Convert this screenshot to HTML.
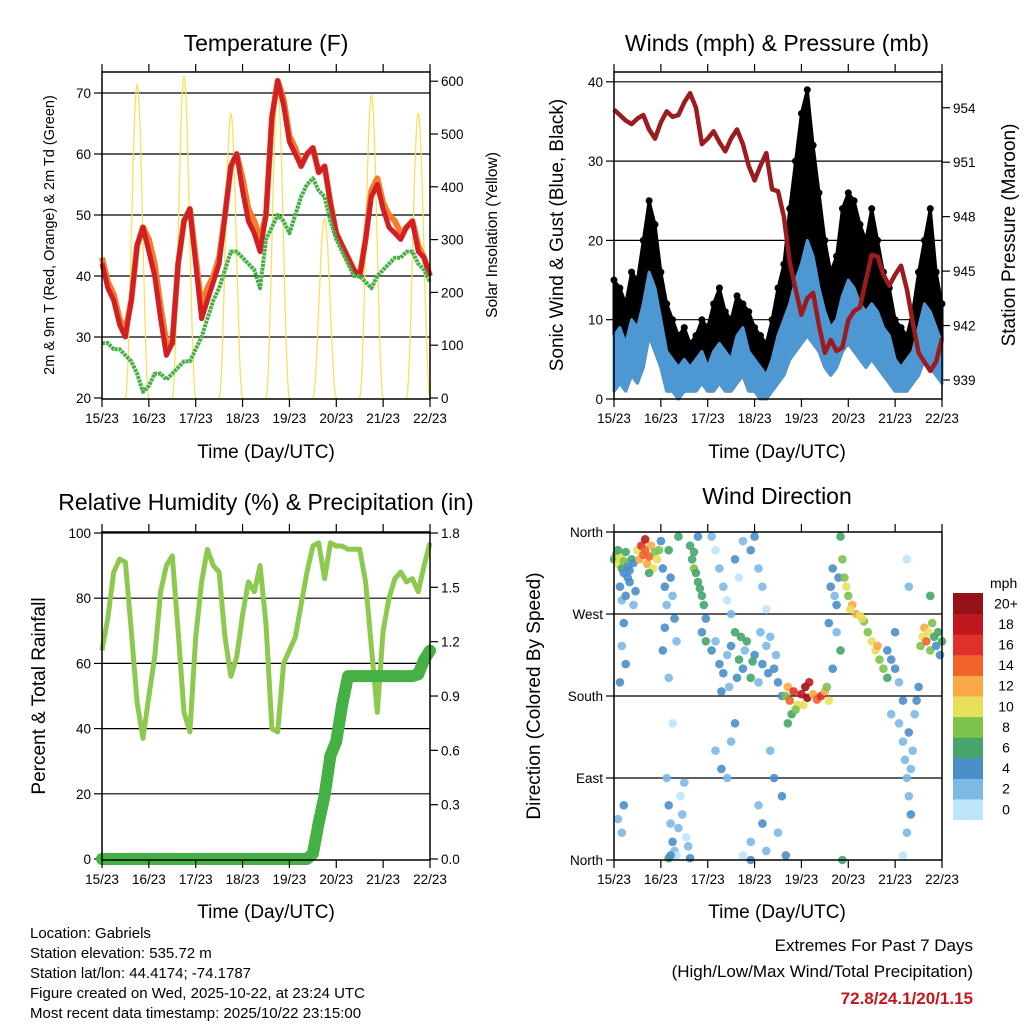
<!DOCTYPE html>
<html><head><meta charset="utf-8">
<style>
html,body{margin:0;padding:0;background:#fff;}
svg{display:block;font-family:"Liberation Sans",sans-serif;}
</style></head>
<body>
<svg id="chart" width="1024" height="1024" viewBox="0 0 1024 1024" xmlns="http://www.w3.org/2000/svg">
<rect x="0" y="0" width="1024" height="1024" fill="#fff"/>
<g id="p1"></g>
<g id="p2"></g>
<g id="p3"></g>
<g id="p4"></g>
<g id="txt">
<text x="266" y="51" font-size="23" text-anchor="middle">Temperature (F)</text>
<text x="777" y="51" font-size="23" text-anchor="middle">Winds (mph) &amp; Pressure (mb)</text>
<text x="266" y="510" font-size="23" text-anchor="middle">Relative Humidity (%) &amp; Precipitation (in)</text>
<text x="777" y="504" font-size="23" text-anchor="middle">Wind Direction</text>
<text x="266" y="458" font-size="19" text-anchor="middle">Time (Day/UTC)</text>
<text x="777" y="458" font-size="19" text-anchor="middle">Time (Day/UTC)</text>
<text x="266" y="918" font-size="19" text-anchor="middle">Time (Day/UTC)</text>
<text x="777" y="918" font-size="19" text-anchor="middle">Time (Day/UTC)</text>
<text transform="translate(54,235) rotate(-90)" font-size="14.5" text-anchor="middle">2m &amp; 9m T (Red, Orange) &amp; 2m Td (Green)</text>
<text transform="translate(497,235) rotate(-90)" font-size="15.5" text-anchor="middle">Solar Insolation (Yellow)</text>
<text transform="translate(563,235) rotate(-90)" font-size="19" text-anchor="middle">Sonic Wind &amp; Gust (Blue, Black)</text>
<text transform="translate(1015,235) rotate(-90)" font-size="19" text-anchor="middle">Station Pressure (Maroon)</text>
<text transform="translate(45,696) rotate(-90)" font-size="19" text-anchor="middle">Percent &amp; Total Rainfall</text>
<text transform="translate(540,696) rotate(-90)" font-size="19" text-anchor="middle">Direction (Colored By Speed)</text>
<text x="30" y="938" font-size="15">Location: Gabriels</text>
<text x="30" y="958" font-size="15">Station elevation: 535.72 m</text>
<text x="30" y="978" font-size="15">Station lat/lon: 44.4174; -74.1787</text>
<text x="30" y="998" font-size="15">Figure created on Wed, 2025-10-22, at 23:24 UTC</text>
<text x="30" y="1018" font-size="15">Most recent data timestamp: 2025/10/22 23:15:00</text>
<text x="973" y="951" font-size="17" text-anchor="end">Extremes For Past 7 Days</text>
<text x="973" y="977" font-size="17" text-anchor="end">(High/Low/Max Wind/Total Precipitation)</text>
<text x="973" y="1004" font-size="17" font-weight="bold" fill="#c4161c" text-anchor="end">72.8/24.1/20/1.15</text>
</g>
</svg>
<script>
// ---- data (3-hourly samples from 15/23 to 22/23) ----
const dayLabels = ["15/23","16/23","17/23","18/23","19/23","20/23","21/23","22/23"];
const tempRed = [42,38,36,32,30,36,45,48,44,40,33,27,29,42,49,51,42,33,36,39,42,50,58,60,54,49,47,44,50,66,72,68,62,60,58,60,61,57,58,52,47,45,43,41,40,46,53,55,51,48,47,46,48,49,44,43,40];
const tempOrange = [43,39,37,33,31,36,45,48,46,42,35,29,29,42,49,51,43,35,38,40,43,50,58,60,56,51,49,46,50,66,72,69,63,61,58,60,61,57,58,52,47,45,43,41,40,46,54,56,52,50,49,47,48,49,45,43,40];
const dewGreen = [29,29,28,28,27,26,24,21,22,24,24,23,24,25,26,26,28,30,33,36,38,41,44,44,43,42,41,38,46,48,50,49,47,50,53,55,56,54,53,49,46,44,42,40,40,39,38,40,41,42,43,43,44,44,42,41,39];
const solarPeaks = [595,610,540,590,340,575,540];
const tempTicks = [20,30,40,50,60,70];
const solarTicks = [0,100,200,300,400,500,600];

const windLo = [1,2,1,3,2,4,8,6,4,1,1,0,1,1,1,2,1,1,2,1,1,2,3,1,1,0,0,1,2,3,5,6,7,8,7,6,4,3,4,6,7,6,5,4,5,4,3,2,1,1,1,2,3,5,4,3,2];
const windHi = [8,9,7,10,9,12,16,14,10,6,5,4,5,4,5,6,4,6,7,6,5,8,9,6,5,4,3,5,8,10,12,15,17,20,18,14,11,9,10,13,15,14,12,11,12,11,9,8,5,4,5,6,9,12,11,9,7];
const gustHi = [15,14,12,16,15,20,25,22,16,12,10,8,9,7,8,10,9,12,14,11,10,13,12,11,9,8,7,10,14,17,24,30,36,39,32,26,20,16,18,24,26,25,22,20,24,20,16,14,10,9,8,11,16,20,24,16,12];
const pressure = [953.9,953.6,953.3,953.1,953.4,953.6,952.8,952.3,953.2,953.8,953.5,953.6,954.3,954.8,954.0,952.0,952.3,952.7,952.1,951.6,952.3,952.8,952.0,950.8,950.0,950.8,951.5,949.5,949.4,948.0,945.5,944.0,942.6,943.5,943.8,942.0,940.5,941.2,940.6,940.8,942.3,942.8,943.0,944.5,945.9,945.8,944.8,944.2,944.8,945.3,944.0,942.2,940.5,940.0,939.5,940.0,941.3];
const windTicks = [0,10,20,30,40];
const pressTicks = [939,942,945,948,951,954];

const rh = [64,74,88,92,91,70,48,37,50,62,82,90,93,70,45,39,68,85,95,90,88,68,56,62,75,85,82,90,72,40,39,60,64,68,78,88,96,97,86,97,96,96,95,95,95,85,65,45,70,80,86,88,85,86,82,90,97];
const precip = [0,0,0,0,0,0,0,0,0,0,0,0,0,0,0,0,0,0,0,0,0,0,0,0,0,0,0,0,0,0,0,0,0,0,0,0,0.03,0.2,0.35,0.57,0.65,0.85,1.01,1.01,1.01,1.01,1.01,1.01,1.01,1.01,1.01,1.01,1.01,1.01,1.02,1.1,1.15];
const rhTicks = [0,20,40,60,80,100];
const precipTicks = ["0.0","0.3","0.6","0.9","1.2","1.5","1.8"];

const dirHours = [0,1,2,3,4,5,6,7,8,9,10,2,5,7, 3,4,6,8,10,11,5,4,6,3,5,4,2, 12,13,14,15,16,17,18,19,20,21,22,16,18,23, 24,25,26,27,28,29,30,31,32,25,28,30,33,26, 27,28,29,30,31,32,33,34,35,36,37,38,39,28,29, 39,40,41,42,43,44,45,46,47,41,43,45,47, 50,52,54,56,58,60,62,66,70,72,74,76,78,64, 50,52,54,56,58,60,62,64,66,68,70,72,74,76,78,80,82,84,86,55,59,63,67,71,75,79,83,65, 52,55,58,60,62,66,70,74,76,78,80,82,84,86,88,70, 88,89,90,92,94,96,98,99,100,102,104,106,108,110,91,93,97,89,109, 110,111,112,113,114,115,116,112,114,117, 116,117,118,119,120,122,124,126,128,130,132,134,136,138,140,135,121,127, 140,142,144,146,148,142,144, 146,148,149,150,151,152,150,153,151,152,154,155,156,148,150,151, 157,158,159,160,161,162,163,164,165,166,167,168,162];
const dirDegrees = [330,335,325,332,320,328,338,322,318,330,326,340,315,310, 300,285,290,305,280,295,260,235,215,195,60,30,45, 340,330,345,335,340,325,333,345,320,338,330,352,315,340, 350,320,300,280,340,310,290,265,240,230,200,150,355,255, 90,60,40,20,10,5,35,70,50,85,25,15,2,2,5, 345,330,320,315,305,298,290,280,265,338,355,250,240, 355,340,320,300,285,270,330,350,340,355,320,300,275,310, 230,240,215,205,225,235,250,220,210,240,200,225,195,215,235,245,210,195,180,185,190,200,230,218,250,205,225,245, 120,100,90,130,150,5,20,60,40,10,120,90,30,70,5,0, 180,190,175,185,170,182,190,178,195,182,176,180,185,175,160,165,170,150,190, 260,300,320,290,280,310,230,210,250,0, 355,330,310,300,290,280,270,268,262,250,240,230,220,210,200,235,275,265, 230,220,210,195,175,160,250, 150,130,110,90,70,50,30,120,140,100,160,175,190,5,330,300, 235,245,255,240,250,230,260,245,235,250,225,240,290];
const dirSpeeds = [6,8,10,10,6,8,6,4,4,6,4,6,4,4, 4,2,4,4,2,4,4,2,4,4,4,2,2, 10,12,16,14,14,12,14,12,10,8,10,18,6,8, 4,4,4,2,6,4,2,4,2,4,2,0,6,4, 2,4,2,4,2,0,2,0,2,2,0,2,4,6,4, 6,6,8,6,6,6,6,6,4,6,4,4,6, 2,0,2,2,0,2,4,2,4,4,2,2,0,0, 4,2,4,4,2,4,6,6,4,6,6,4,2,4,2,2,4,4,4,4,2,4,2,6,2,4,2,6, 2,4,2,2,4,0,2,2,4,2,2,4,2,4,4,4, 8,12,14,16,10,18,20,20,18,12,14,16,12,10,6,8,10,6,8, 4,4,4,2,4,4,6,4,2,6, 6,8,8,10,8,12,12,10,8,8,10,10,8,8,6,12,10,10, 4,4,4,2,4,2,4, 2,2,2,2,2,4,2,2,4,2,2,4,4,0,0,2, 8,10,12,14,10,8,8,6,4,6,4,6,6];
const dirLabels = ["North","East","South","West","North"];
const speedLabels = ["0","2","4","6","8","10","12","14","16","18","20+"];
const speedColors = ["#bde5f8","#7db9e5","#4a8ec8","#45a56c","#7dc24b","#e8e05a","#f9a947","#f0632b","#e03029","#c0161f","#961219"];

// ---- helpers ----
const NS = "http://www.w3.org/2000/svg";
function mk(parent, tag, attrs) {
  const e = document.createElementNS(NS, tag);
  for (const k in attrs) e.setAttribute(k, attrs[k]);
  parent.appendChild(e);
  return e;
}
const P1 = document.getElementById("p1"), P2 = document.getElementById("p2"),
      P3 = document.getElementById("p3"), P4 = document.getElementById("p4");

function frame(g, L, T, R, B, name) {
  const f = mk(g, "rect", {x:L, y:T, width:R-L, height:B-T, fill:"none", stroke:"#000", "stroke-width":1.5});
  
  
  dayLabels.forEach((d, i) => {
    const x = L + (R - L) * i / 7;
    const t1 = mk(g, "line", {x1:x, y1:T, x2:x, y2:T-8, stroke:"#000", "stroke-width":1.2});
    
    
    const t2 = mk(g, "line", {x1:x, y1:B, x2:x, y2:B+8, stroke:"#000", "stroke-width":1.2});
    
    
    const lb = mk(g, "text", {x:x, y:B+24, "font-size":13.5, "text-anchor":"middle"});
    lb.textContent = d;
    
    
  });
}
function hline(g, L, R, y) {
  const l = mk(g, "line", {x1:L, y1:y, x2:R, y2:y, stroke:"#000", "stroke-width":1.2});
  
  
}
function ytick(g, x, y, label, side) {
  const dx = side === "left" ? -8 : 8;
  const t = mk(g, "line", {x1:x, y1:y, x2:x+dx, y2:y, stroke:"#000", "stroke-width":1.2});
  
  
  const lb = mk(g, "text", {x: side === "left" ? x-11 : x+11, y:y+5, "font-size":13.5, "text-anchor": side === "left" ? "end" : "start"});
  lb.textContent = label;
  
  
}
function pts(arr, xf, yf) { return arr.map((v, i) => xf(i).toFixed(1) + "," + yf(v).toFixed(1)).join(" "); }

// ---- Panel 1: temperature ----
(function(){
  const L=102, R=430, T=72, B=399;
  const xs = i => L + (R-L) * i / (tempRed.length-1);
  const yT = v => 398 - (v-20) * 6.1;
  const yS = v => 398 - v * 0.528;
  tempTicks.forEach(v => { if (v > 20) hline(P1, L, R, yT(v)); ytick(P1, L, yT(v), String(v), "left"); });
  solarTicks.forEach(v => ytick(P1, R, yS(v), String(v), "right"));
  solarPeaks.forEach((pk, d) => {
    const c = L + (R-L) * (d*24 + 18) / 168;
    let s = "";
    for (let k = -12; k <= 12; k++) {
      const h = k / 2;
      const f = Math.cos(h / 6 * Math.PI / 2);
      s += (c + h*(R-L)/168).toFixed(1) + "," + yS(pk * Math.max(0,f) ** 2).toFixed(1) + " ";
    }
    const p = mk(P1, "polyline", {points:s, fill:"none", stroke:"#f7e15a", "stroke-width":1.3});
    
    
  });
  const o = mk(P1, "polyline", {points:pts(tempOrange, xs, yT), fill:"none", stroke:"#f47c2a", "stroke-width":6, "stroke-linejoin":"round"});
  
  
  const r = mk(P1, "polyline", {points:pts(tempRed, xs, yT), fill:"none", stroke:"#d11f26", "stroke-width":5, "stroke-linejoin":"round"});
  
  
  const g = mk(P1, "polyline", {points:pts(dewGreen, xs, yT), fill:"none", stroke:"#45b044", "stroke-width":4, "stroke-dasharray":"3 0.8", "stroke-linejoin":"round"});
  
  
  frame(P1, L, T, R, B, "temperature-frame");
})();

// ---- Panel 2: winds & pressure ----
(function(){
  const L=614, R=942, T=72, B=399;
  const xs = i => L + (R-L) * i / (windHi.length-1);
  const yW = v => 399 - v * 7.93;
  const yP = v => 380 - (v-939) * 18.15;
  windTicks.forEach(v => { if (v > 0) hline(P2, L, R, yW(v)); ytick(P2, L, yW(v), String(v), "left"); });
  pressTicks.forEach(v => ytick(P2, R, yP(v), String(v), "right"));
  let top = gustHi.map((v,i)=>xs(i).toFixed(1)+","+yW(v).toFixed(1));
  let bot = windLo.map((v,i)=>xs(i).toFixed(1)+","+yW(v).toFixed(1)).reverse();
  const gb = mk(P2, "polygon", {points: top.concat(bot).join(" "), fill:"#000", stroke:"#000", "stroke-width":3, "stroke-linejoin":"round"});
  
  
  gustHi.forEach((v,i) => {
    const c = mk(P2, "circle", {cx:xs(i), cy:yW(v), r:3.5, fill:"#000"});
    
    
  });
  top = windHi.map((v,i)=>xs(i).toFixed(1)+","+yW(v).toFixed(1));
  const wb = mk(P2, "polygon", {points: top.concat(bot).join(" "), fill:"#4d98d2", stroke:"#4d98d2", "stroke-width":3, "stroke-linejoin":"round"});
  
  
  const pl = mk(P2, "polyline", {points:pts(pressure, xs, yP), fill:"none", stroke:"#9b1b1e", "stroke-width":4.5, "stroke-linejoin":"round"});
  
  
  frame(P2, L, T, R, B, "winds-frame");
})();

// ---- Panel 3: RH & precipitation ----
(function(){
  const L=102, R=430, T=532, B=860;
  const xs = i => L + (R-L) * i / (rh.length-1);
  const yR = v => 859 - v * 3.26;
  const yPr = v => 859 - v * 181.1;
  rhTicks.forEach(v => { if (v > 0) hline(P3, L, R, yR(v)); ytick(P3, L, yR(v), String(v), "left"); });
  precipTicks.forEach(v => ytick(P3, R, yPr(parseFloat(v)), v, "right"));
  const l = mk(P3, "polyline", {points:pts(rh, xs, yR), fill:"none", stroke:"#8dc94e", "stroke-width":5, "stroke-linejoin":"round"});
  
  
  const pp = mk(P3, "polyline", {points:pts(precip, xs, yPr), fill:"none", stroke:"#45b044", "stroke-width":12, "stroke-linejoin":"round", "stroke-linecap":"round"});
  
  
  frame(P3, L, T, R, B, "humidity-frame");
})();

// ---- Panel 4: wind direction ----
(function(){
  const L=614, R=942, T=532, B=860;
  const xh = h => L + (R-L) * h / 168;
  const yD = d => B - d / 360 * (B-T);
  dirLabels.forEach((lab, i) => {
    const y = yD(i*90);
    if (i > 0 && i < 4) hline(P4, L, R, y);
    ytick(P4, L, y, lab, "left");
  });
  dirHours.forEach((h, i) => {
    const bin = Math.min(10, Math.floor(dirSpeeds[i] / 2));
    const c = mk(P4, "circle", {cx:xh(h).toFixed(1), cy:yD(dirDegrees[i]).toFixed(1), r:4.3, fill:speedColors[bin], "fill-opacity":0.9});
    
    
  });
  frame(P4, L, T, R, B, "direction-frame");
  const cbT = 593, cbH = 20.6;
  const ml = mk(P4, "text", {x:990, y:588, "font-size":14, "text-anchor":"start"});
  ml.textContent = "mph";
  
  
  speedLabels.forEach((lab, i) => {
    const k = speedLabels.length - 1 - i;
    const y = cbT + k * cbH;
    const r = mk(P4, "rect", {x:953, y:y, width:30, height:cbH+0.5, fill:speedColors[i]});
    
    
    const t = mk(P4, "text", {x:1006, y:y+cbH/2+5, "font-size":14, "text-anchor":"middle"});
    t.textContent = lab;
    
    
  });
})();
</script>
</body></html>
